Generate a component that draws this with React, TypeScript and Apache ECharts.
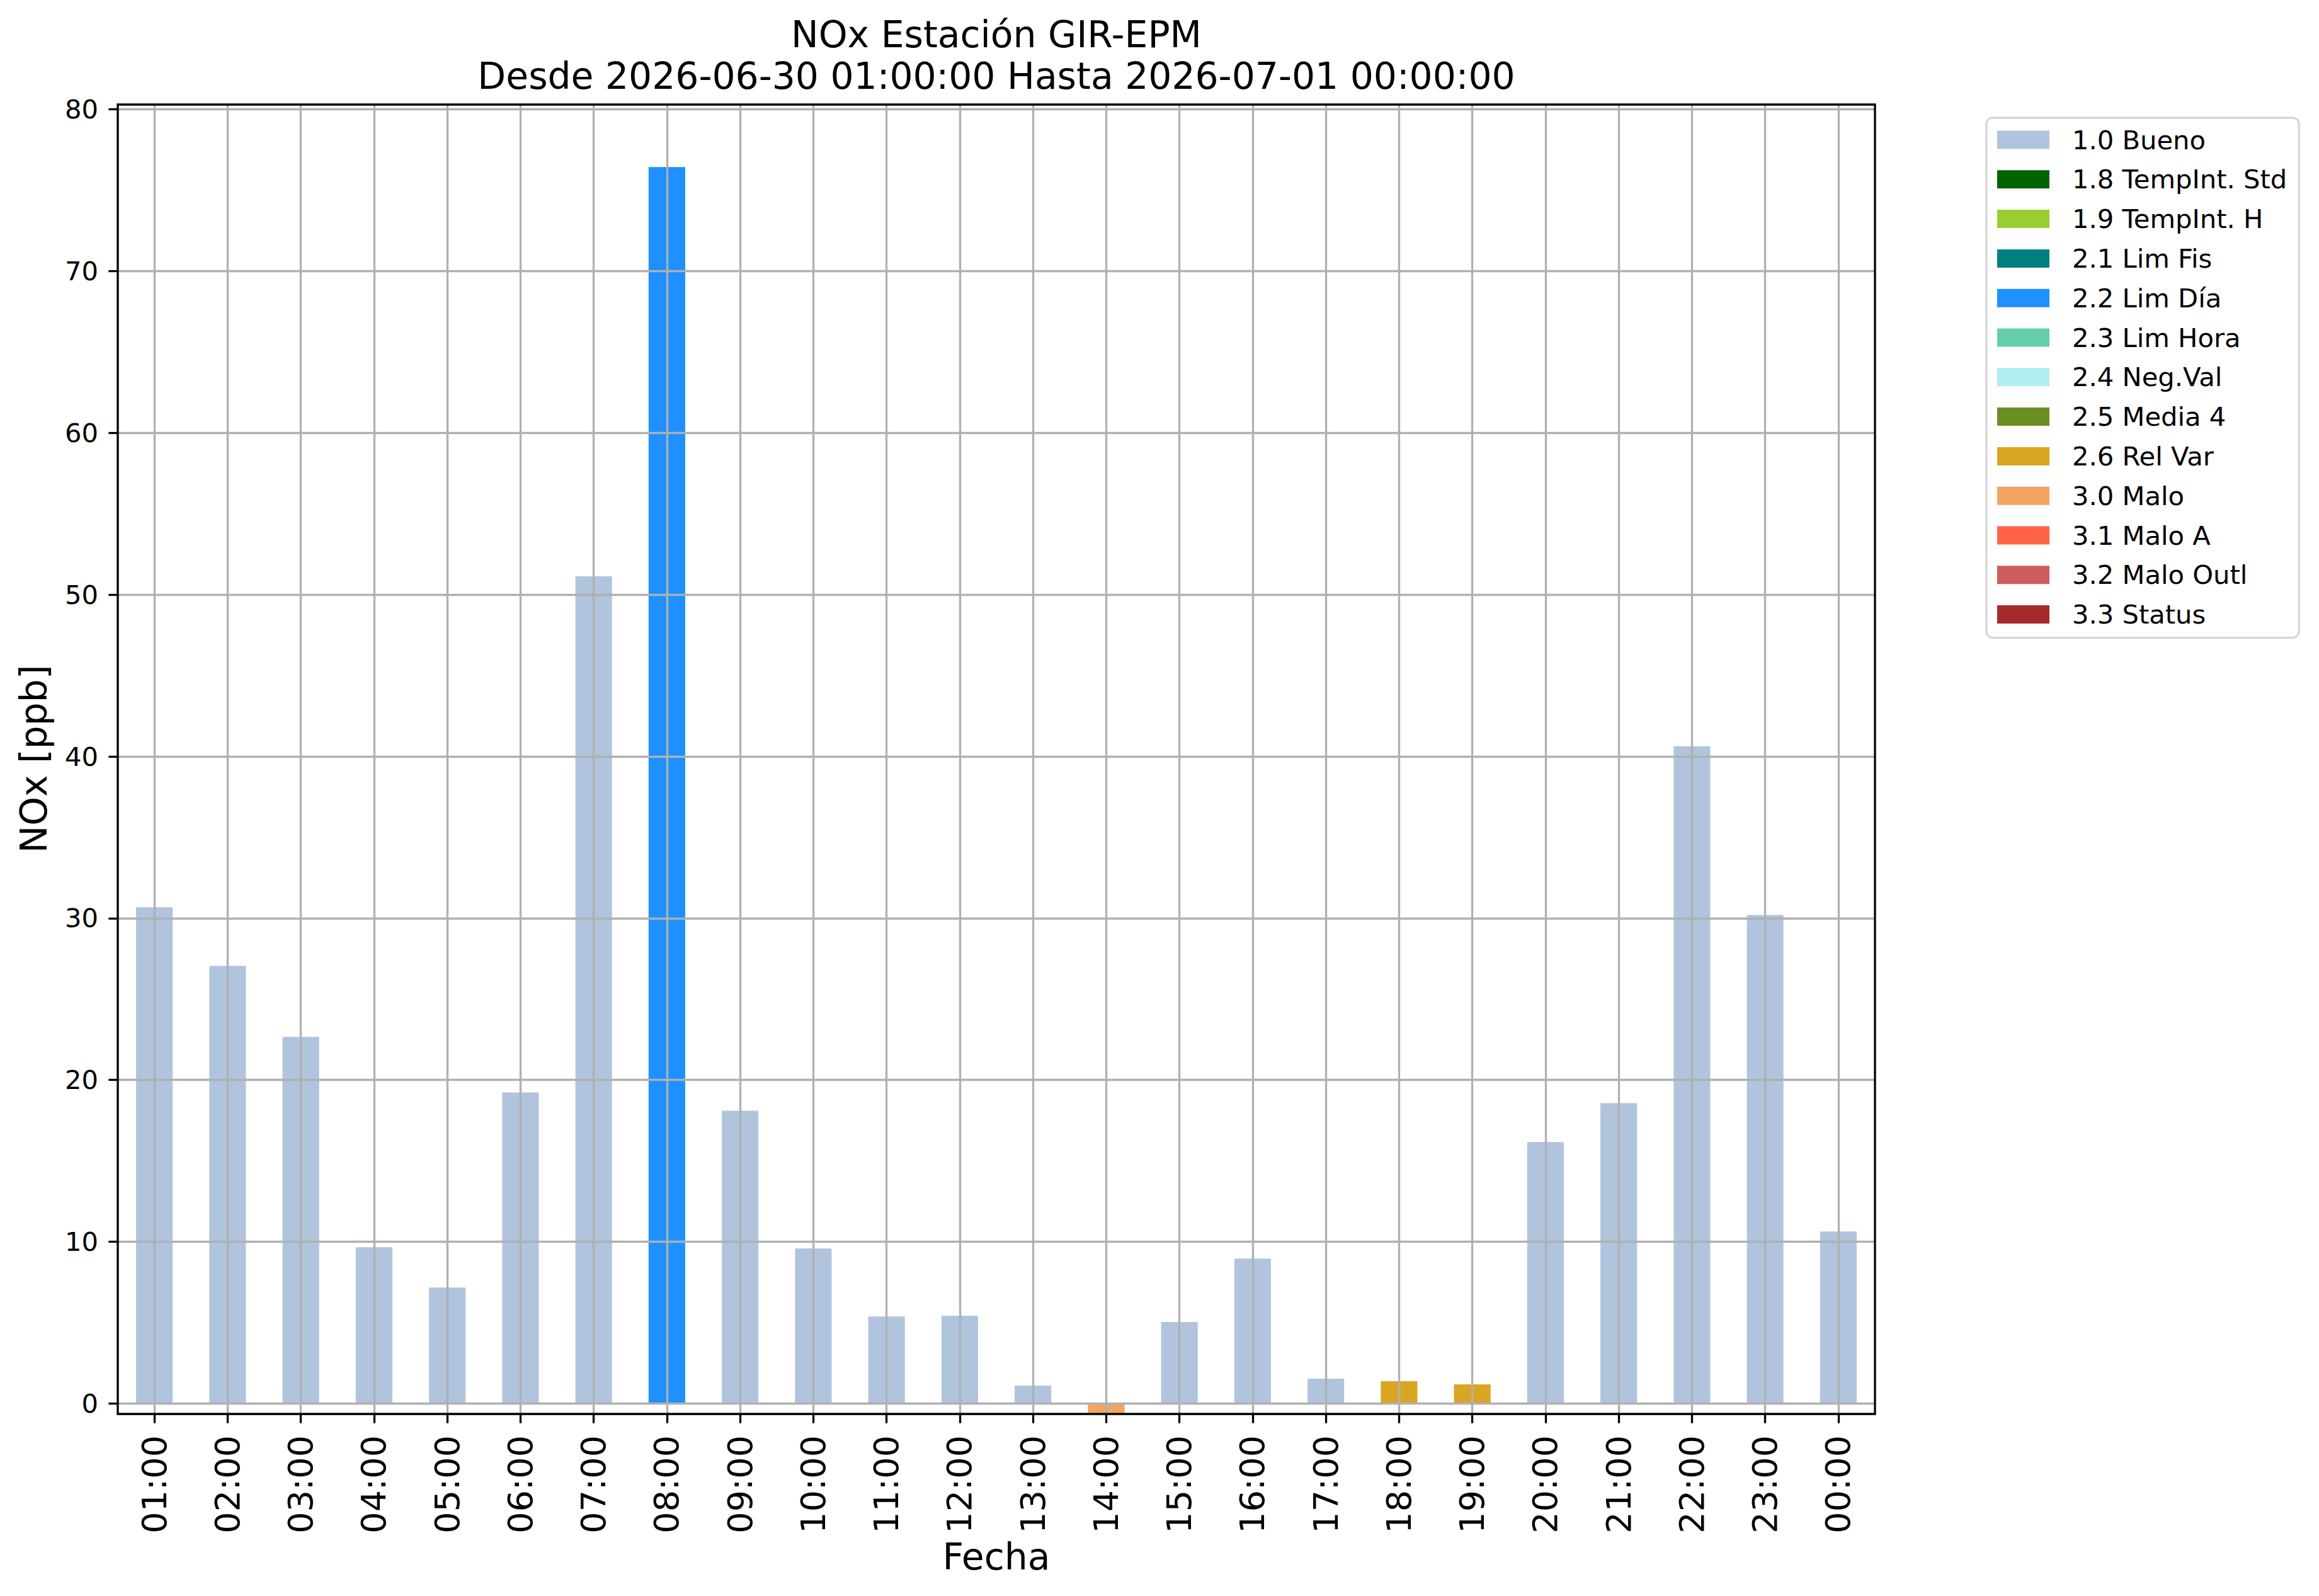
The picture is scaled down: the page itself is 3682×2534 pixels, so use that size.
import React, { useEffect, useRef } from "react";
import * as echarts from "echarts";

const categories = [
  "01:00", "02:00", "03:00", "04:00", "05:00", "06:00", "07:00", "08:00",
  "09:00", "10:00", "11:00", "12:00", "13:00", "14:00", "15:00", "16:00",
  "17:00", "18:00", "19:00", "20:00", "21:00", "22:00", "23:00", "00:00",
];
const values = [
  30.67, 27.05, 22.66, 9.66, 7.17, 19.23, 51.14, 76.44,
  18.1, 9.58, 5.38, 5.42, 1.1, -0.57, 5.03, 8.96,
  1.53, 1.37, 1.18, 16.16, 18.57, 40.63, 30.2, 10.63,
];
const flags = [
  "1.0 Bueno", "1.0 Bueno", "1.0 Bueno", "1.0 Bueno", "1.0 Bueno", "1.0 Bueno", "1.0 Bueno", "2.2 Lim Día",
  "1.0 Bueno", "1.0 Bueno", "1.0 Bueno", "1.0 Bueno", "1.0 Bueno", "3.0 Malo", "1.0 Bueno", "1.0 Bueno",
  "1.0 Bueno", "2.6 Rel Var", "2.6 Rel Var", "1.0 Bueno", "1.0 Bueno", "1.0 Bueno", "1.0 Bueno", "1.0 Bueno",
];
const flagNames = [
  "1.0 Bueno", "1.8 TempInt. Std", "1.9 TempInt. H", "2.1 Lim Fis", "2.2 Lim Día",
  "2.3 Lim Hora", "2.4 Neg.Val", "2.5 Media 4", "2.6 Rel Var", "3.0 Malo",
  "3.1 Malo A", "3.2 Malo Outl", "3.3 Status",
];
const flagColors = [
  "#B0C4DE", "#006400", "#9ACD32", "#008080", "#1E90FF",
  "#66CDAA", "#AFEEEE", "#6B8E23", "#DAA520", "#F4A460",
  "#FF6347", "#CD5C5C", "#A52A2A",
];
const yTicks = [0, 10, 20, 30, 40, 50, 60, 70, 80];
const yMin = -0.65;
const yMax = 80.3;
const titleLines = ["NOx Estación GIR-EPM", "Desde 2026-06-30 01:00:00 Hasta 2026-07-01 00:00:00"];
const yName = "NOx [ppb]";
const xName = "Fecha";

const FONT = "'DejaVu Sans', sans-serif";
const W = 3682;
const H = 2534;

export default function App() {
  const ref = useRef<HTMLDivElement>(null);
  useEffect(() => {
    if (!ref.current) return;
    const chart = echarts.init(ref.current, null, { renderer: "svg" });
    const lineStyle = { color: "#000", width: 3.3 };
    const gridLine = { color: "#b0b0b0", width: 3.3 };
    const series = flagNames.map((name, k) => ({
      name,
      type: "bar",
      stack: "q",
      barWidth: "50%",
      z: 2,
      itemStyle: { color: flagColors[k] },
      data: values.map((v, i) => (flags[i] === name ? v : "-")),
    }));
    chart.setOption({
      animation: false,
      backgroundColor: "#fff",
      textStyle: { fontFamily: FONT },
      grid: {
        left: 187,
        right: W - 2977,
        top: 166,
        bottom: H - 2245,
        show: true,
        z: 10,
        borderColor: "#000",
        borderWidth: 3.3,
        backgroundColor: "transparent",
      },
      legend: {
        orient: "vertical",
        left: 3154,
        top: 187,
        padding: [14, 19, 16, 17],
        itemWidth: 83,
        itemHeight: 29,
        itemGap: 20.8,
        icon: "rect",
        selectedMode: false,
        borderColor: "#d6d6d6",
        borderWidth: 3.3,
        borderRadius: 10,
        backgroundColor: "#fff",
        textStyle: {
          fontSize: 41.67,
          fontFamily: FONT,
          color: "#000",
          lineHeight: 42,
          padding: [0, 0, 0, 31],
        },
        data: flagNames,
      },
      xAxis: {
        type: "category",
        data: categories,
        boundaryGap: true,
        z: 5,
        axisLine: { show: false, onZero: false },
        axisTick: { show: true, alignWithLabel: true, length: 14.6, lineStyle },
        axisLabel: { rotate: 90, fontSize: 54, color: "#000", fontFamily: FONT, margin: 34, interval: 0 },
        splitLine: { show: true, alignWithLabel: true, interval: 0, lineStyle: gridLine },
      },
      yAxis: {
        type: "value",
        min: yMin,
        max: yMax,
        z: 5,
        axisLine: { show: false },
        axisTick: { show: true, customValues: yTicks, length: 14.6, lineStyle },
        axisLabel: {
          customValues: yTicks,
          fontSize: 41.67,
          color: "#000",
          fontFamily: FONT,
          margin: 31,
          formatter: (v: number) => String(Math.round(v)),
        },
        splitLine: { show: true, lineStyle: gridLine },
      },
      graphic: [
        {
          type: "text",
          x: 1582,
          y: 55,
          style: { text: titleLines[0], font: `58.33px ${FONT}`, fill: "#000", textAlign: "center", textVerticalAlign: "middle" },
        },
        {
          type: "text",
          x: 1582,
          y: 121,
          style: { text: titleLines[1], font: `58.33px ${FONT}`, fill: "#000", textAlign: "center", textVerticalAlign: "middle" },
        },
        {
          type: "text",
          x: 54,
          y: 1205,
          rotation: Math.PI / 2,
          style: { text: yName, font: `58.33px ${FONT}`, fill: "#000", textAlign: "center", textVerticalAlign: "middle" },
        },
        {
          type: "text",
          x: 1582,
          y: 2472,
          style: { text: xName, font: `58.33px ${FONT}`, fill: "#000", textAlign: "center", textVerticalAlign: "middle" },
        },
      ],
      series,
    });
    return () => chart.dispose();
  }, []);
  return (
    <div
      ref={ref}
      style={{ position: "absolute", left: 0, top: 0, width: W, height: H, background: "#fff" }}
    />
  );
}
